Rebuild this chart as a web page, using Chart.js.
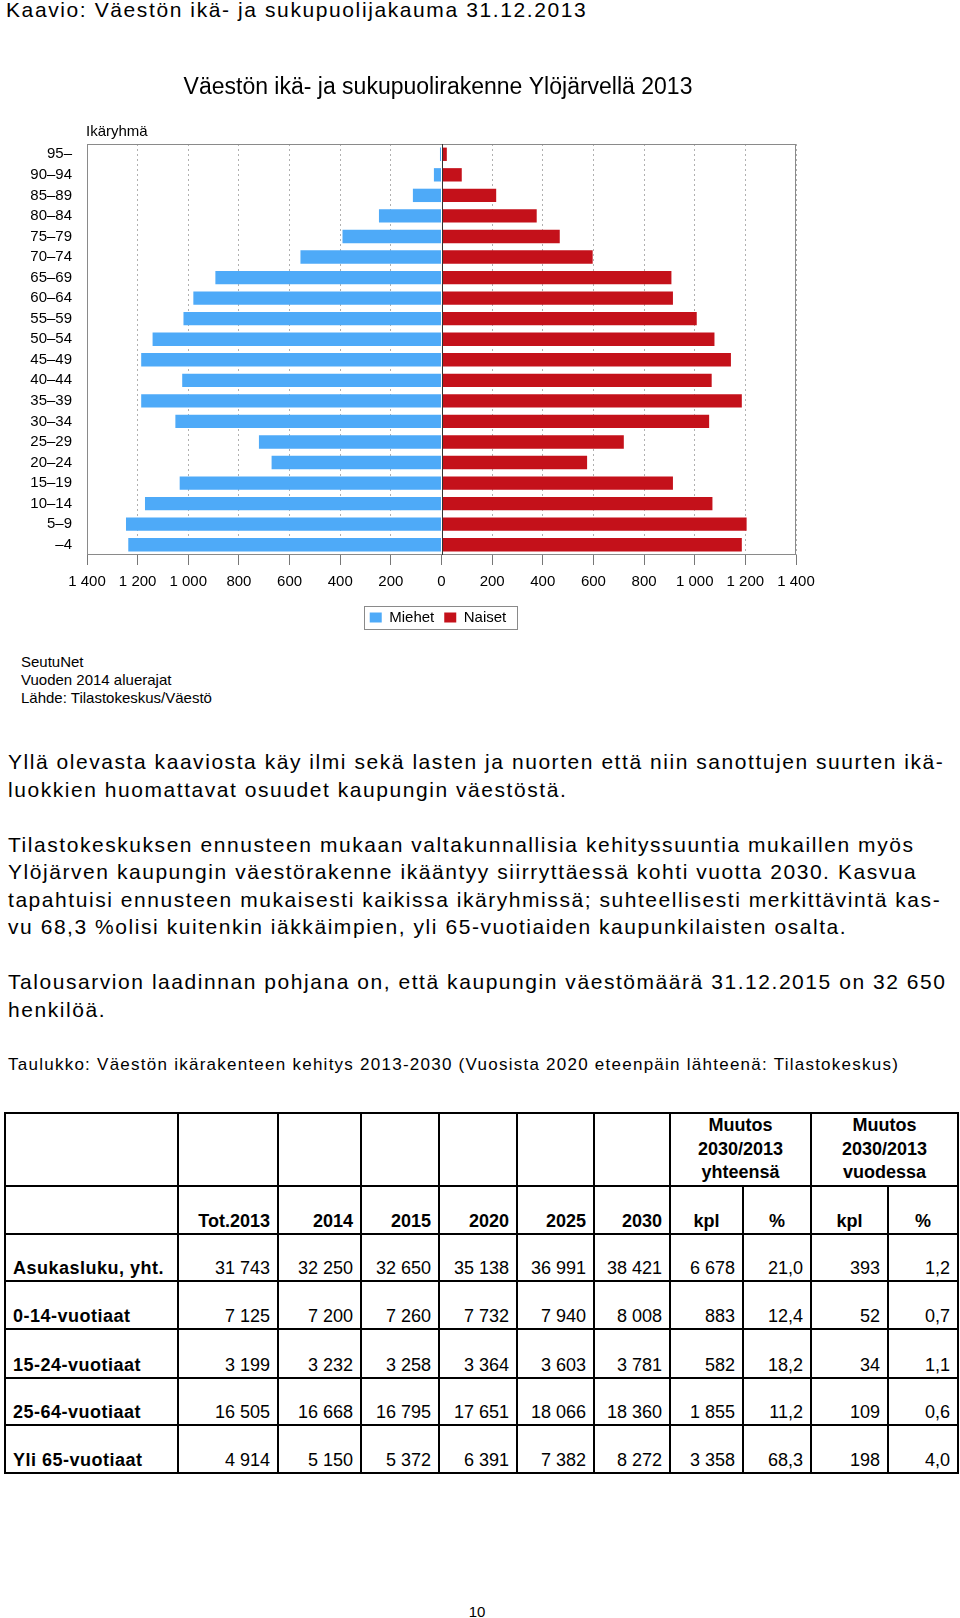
<!DOCTYPE html>
<html lang="fi">
<head>
<meta charset="utf-8">
<title>Väestön ikä- ja sukupuolirakenne Ylöjärvellä 2013</title>
<script src="https://cdn.jsdelivr.net/npm/chart.js@4.4.1/dist/chart.umd.min.js"></script>
<style>
  html, body { margin: 0; padding: 0; background: #fff; }
  body {
    position: relative; width: 960px; height: 1618px; overflow: hidden;
    font-family: "Liberation Sans", Arial, sans-serif; color: #000;
  }
  .abs { position: absolute; white-space: nowrap; }
  #heading { left: 6px; top: 0; font-size: 21px; line-height: 20px; letter-spacing: 1.6px; }
  #chartBox { position: absolute; left: 0; top: 60px; width: 876px; height: 575px; }
  #ageLabel { left: 86px; top: 122px; font-size: 15px; line-height: 18px; }
  #source { left: 21px; top: 653px; font-size: 15px; line-height: 18px; }
  #text { left: 8px; top: 748px; font-size: 21px; line-height: 27.5px; letter-spacing: 1.55px; }
  #caption { left: 8px; top: 1055px; font-size: 17px; line-height: 20px; letter-spacing: 1.25px; }
  #pageNo { left: 437px; width: 80px; text-align: center; top: 1604px; font-size: 15px; line-height: 15px; }

  #tbl {
    position: absolute; left: 4px; top: 1112px; width: 953px;
    border-collapse: collapse; table-layout: fixed; font-size: 18px;
  }
  #tbl td {
    border: 2px solid #000; padding: 0 7px 3px 7px; line-height: 18px;
    vertical-align: bottom; text-align: right; white-space: nowrap; overflow: hidden;
  }
  #tbl td.lbl { text-align: left; font-weight: bold; letter-spacing: 0.5px; }
  #tbl td.hd { font-weight: bold; }
  #tbl td.mid { text-align: center; }
  #tbl td.muutos { text-align: center; vertical-align: middle; line-height: 23.5px; padding: 0; font-weight: bold; }
</style>
</head>
<body>

<div id="heading" class="abs">Kaavio: Väestön ikä- ja sukupuolijakauma 31.12.2013</div>

<div id="chartBox"><canvas id="pyramid"></canvas></div>
<div id="ageLabel" class="abs">Ikäryhmä</div>

<div id="source" class="abs">SeutuNet<br>Vuoden 2014 aluerajat<br>Lähde: Tilastokeskus/Väestö</div>

<div id="text" class="abs">Yllä olevasta kaaviosta käy ilmi sekä lasten ja nuorten että niin sanottujen suurten ikä-<br>luokkien huomattavat osuudet kaupungin väestöstä.<br><br>Tilastokeskuksen ennusteen mukaan valtakunnallisia kehityssuuntia mukaillen myös<br>Ylöjärven kaupungin väestörakenne ikääntyy siirryttäessä kohti vuotta 2030. Kasvua<br>tapahtuisi ennusteen mukaisesti kaikissa ikäryhmissä; suhteellisesti merkittävintä kas-<br>vu 68,3 %olisi kuitenkin iäkkäimpien, yli 65-vuotiaiden kaupunkilaisten osalta.<br><br>Talousarvion laadinnan pohjana on, että kaupungin väestömäärä 31.12.2015 on 32 650<br>henkilöä.</div>

<div id="caption" class="abs">Taulukko: Väestön ikärakenteen kehitys 2013-2030 (Vuosista 2020 eteenpäin lähteenä: Tilastokeskus)</div>

<table id="tbl"></table>

<div id="pageNo" class="abs">10</div>

<script>
// ikäryhmät ylhäältä alas
const ageGroups = ['95–', '90–94', '85–89', '80–84', '75–79', '70–74', '65–69', '60–64', '55–59', '50–54',
                   '45–49', '40–44', '35–39', '30–34', '25–29', '20–24', '15–19', '10–14', '5–9', '–4'];
const men   = [6, 30, 113, 247, 391, 557, 893, 980, 1019, 1141, 1186, 1024, 1186, 1051, 721, 671, 1034, 1171, 1246, 1237];
const women = [21, 80, 216, 376, 467, 597, 908, 914, 1008, 1078, 1143, 1067, 1186, 1057, 720, 575, 914, 1070, 1205, 1186];
const xTicks = [-1400, -1200, -1000, -800, -600, -400, -200, 0, 200, 400, 600, 800, 1000, 1200, 1400];

// taulukko
const colWidths = [173, 100, 83, 78, 78, 77, 76, 73, 68, 77, 70];
const rowHeights = [71, 48, 47, 48, 49, 47, 48];
const yearHeads = ['Tot.2013', '2014', '2015', '2020', '2025', '2030'];
const changeHeads = ['kpl', '%', 'kpl', '%'];
const groups = ['Asukasluku, yht.', '0-14-vuotiaat', '15-24-vuotiaat', '25-64-vuotiaat', 'Yli 65-vuotiaat'];
const rowTotal = ['31 743', '32 250', '32 650', '35 138', '36 991', '38 421', '6 678', '21,0', '393', '1,2'];
const row0_14  = ['7 125', '7 200', '7 260', '7 732', '7 940', '8 008', '883', '12,4', '52', '0,7'];
const row15_24 = ['3 199', '3 232', '3 258', '3 364', '3 603', '3 781', '582', '18,2', '34', '1,1'];
const row25_64 = ['16 505', '16 668', '16 795', '17 651', '18 066', '18 360', '1 855', '11,2', '109', '0,6'];
const row65    = ['4 914', '5 150', '5 372', '6 391', '7 382', '8 272', '3 358', '68,3', '198', '4,0'];

const MEN_COLOR = '#4eaaf8';
const WOMEN_COLOR = '#c4111a';

Chart.defaults.font.family = '"Liberation Sans", Arial, sans-serif';

const fmt = v => String(Math.abs(v)).replace(/\B(?=(\d{3})+(?!\d))/g, '\u00a0');

// kehys kuva-alueen ympäri, nollaviiva ja selitteen laatikko
const framePlugin = {
  id: 'frame',
  afterDatasetsDraw(chart) {
    const { ctx, chartArea: a } = chart;
    const x0 = Math.round(chart.scales.x.getPixelForValue(0)) + 0.5;
    ctx.save();
    ctx.strokeStyle = '#8a8a8a';
    ctx.lineWidth = 1;
    ctx.strokeRect(Math.round(a.left) + 0.5, Math.round(a.top) + 0.5, Math.round(a.width) - 1, Math.round(a.height) - 1);
    ctx.strokeStyle = '#333';
    ctx.beginPath();
    ctx.moveTo(x0, a.top);
    ctx.lineTo(x0, a.bottom);
    ctx.stroke();
    ctx.restore();
  },
  afterDraw(chart) {
    const boxes = chart.legend && chart.legend.legendHitBoxes;
    if (!boxes || !boxes.length) return;
    const l = Math.min(...boxes.map(b => b.left)) - 6;
    const r = Math.max(...boxes.map(b => b.left + b.width)) + 10;
    const t = Math.min(...boxes.map(b => b.top)) - 4;
    const btm = Math.max(...boxes.map(b => b.top + b.height)) + 4;
    const ctx = chart.ctx;
    ctx.save();
    ctx.strokeStyle = '#8a8a8a';
    ctx.lineWidth = 1;
    ctx.strokeRect(Math.round(l) + 0.5, Math.round(t) + 0.5, Math.round(r - l), Math.round(btm - t));
    ctx.restore();
  }
};

new Chart(document.getElementById('pyramid'), {
  type: 'bar',
  data: {
    labels: ageGroups,
    datasets: [
      { label: 'Miehet', data: men.map(v => -v), backgroundColor: MEN_COLOR, borderWidth: 0, yAxisID: 'y' },
      { label: 'Naiset', data: women, backgroundColor: WOMEN_COLOR, borderWidth: 0, yAxisID: 'y' },
    ],
  },
  options: {
    indexAxis: 'y',
    responsive: true,
    maintainAspectRatio: false,
    animation: false,
    barPercentage: 0.65,
    categoryPercentage: 1,
    layout: { padding: 0 },
    plugins: {
      title: {
        display: true,
        text: 'Väestön ikä- ja sukupuolirakenne Ylöjärvellä 2013',
        color: '#000',
        font: { size: 23, weight: 'normal' },
        padding: { top: 14, bottom: 42.4 },
      },
      legend: {
        position: 'bottom',
        labels: { color: '#000', font: { size: 15 }, boxWidth: 12, boxHeight: 10, padding: 10 },
      },
      tooltip: { enabled: false },
    },
    scales: {
      x: {
        stacked: true,
        min: -1400,
        max: 1400,
        afterBuildTicks: s => { s.ticks = xTicks.map(v => ({ value: v })); },
        ticks: { color: '#000', font: { size: 15 }, padding: 8, maxRotation: 0, autoSkip: false, callback: v => fmt(v) },
        grid: {
          color: c => (c.tick && c.tick.value === 0 ? 'rgba(0,0,0,0)' : '#b0b0b0'),
          tickColor: '#777',
          tickLength: 10,
          tickBorderDash: [],
        },
        border: { display: false, dash: [2, 3] },
        afterFit: s => { s.height = 45; },
      },
      y: {
        stacked: true,
        grid: { display: false, drawTicks: false },
        border: { display: false },
        ticks: { color: '#000', font: { size: 15 }, padding: 15, autoSkip: false },
        afterFit: s => { s.width = 87; },
      },
      y2: {
        type: 'category',
        position: 'right',
        grid: { display: false, drawTicks: false },
        border: { display: false },
        ticks: { display: false },
        afterFit: s => { s.width = 80; },
      },
    },
  },
  plugins: [framePlugin],
});

// taulukko rakennetaan taulukoista
const tbl = document.getElementById('tbl');
const cg = document.createElement('colgroup');
colWidths.forEach(w => { const c = document.createElement('col'); c.style.width = w + 'px'; cg.appendChild(c); });
tbl.appendChild(cg);

function addRow(h) { const tr = tbl.insertRow(); tr.style.height = h + 'px'; return tr; }
function addCell(tr, txt, cls, span) {
  const td = tr.insertCell();
  if (cls) td.className = cls;
  if (span) td.colSpan = span;
  td.innerHTML = txt;
  return td;
}

let tr = addRow(rowHeights[0]);
for (let i = 0; i < 7; i++) addCell(tr, '');
addCell(tr, 'Muutos<br>2030/2013<br>yhteensä', 'muutos', 2);
addCell(tr, 'Muutos<br>2030/2013<br>vuodessa', 'muutos', 2);

tr = addRow(rowHeights[1]);
addCell(tr, '');
yearHeads.forEach(t => addCell(tr, t, 'hd'));
changeHeads.forEach(t => addCell(tr, t, 'hd mid'));

[rowTotal, row0_14, row15_24, row25_64, row65].forEach((vals, i) => {
  const r = addRow(rowHeights[i + 2]);
  addCell(r, groups[i], 'lbl');
  vals.forEach(v => addCell(r, v));
});
</script>
</body>
</html>
